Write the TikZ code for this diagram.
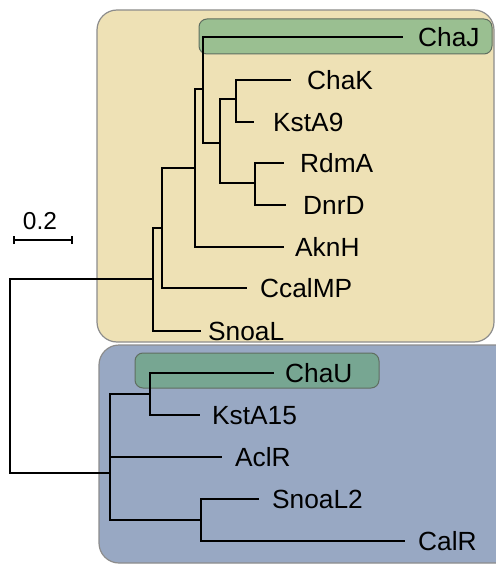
\documentclass[tikz,border=0pt]{standalone}
\usepackage{fontspec}
\setmainfont{Liberation Sans}
\definecolor{cladeA}{HTML}{EEE1B5}
\definecolor{cladeB}{HTML}{98A8C3}
\definecolor{hiA}{HTML}{9ABF91}
\definecolor{hiB}{HTML}{77A692}
\definecolor{rimgray}{HTML}{8C8C8C}
\definecolor{rimgreen}{HTML}{5F6E60}
\begin{document}
\begin{tikzpicture}[x=1pt,y=-1pt,
  clade/.style={draw=rimgray,line width=1.2pt,rounded corners=20pt},
  highlight/.style={draw=rimgreen,line width=1pt,rounded corners=8pt},
  branch/.style={draw=black,line width=2pt,line cap=rect},
  leaf/.style={anchor=base west,inner sep=0pt,font=\fontsize{26.3}{30}\selectfont},
  scalebar/.style={draw=black,line width=2pt}]
\useasboundingbox (0,0) rectangle (495,564);

% clade backgrounds
\path[clade,fill=cladeA] (97,10) rectangle (494,342);
\path[clade,fill=cladeB] (99,345) rectangle (520,563);
\path[highlight,fill=hiA] (199,19) rectangle (492,54);
\path[highlight,fill=hiB] (135,353) rectangle (379,388);

% internal nodes
\coordinate (r)  at (10,376);
\coordinate (y1) at (153,279);
\coordinate (y2) at (162,228);
\coordinate (y3) at (195,168);
\coordinate (y4) at (203,89);
\coordinate (y5) at (220,143);
\coordinate (y6) at (236,99);
\coordinate (y7) at (255,183);
\coordinate (b1) at (110,473);
\coordinate (b2) at (150,394);
\coordinate (b3) at (201,520);

% branch tips
\coordinate (tChaJ)   at (402,37);
\coordinate (tChaK)   at (290,80);
\coordinate (tKstA9)  at (253,122);
\coordinate (tRdmA)   at (283,163);
\coordinate (tDnrD)   at (285,205);
\coordinate (tAknH)   at (283,247);
\coordinate (tCcalMP) at (246,288);
\coordinate (tSnoaL)  at (200,331);
\coordinate (tChaU)   at (273,373);
\coordinate (tKstA15) at (199,415);
\coordinate (tAclR)   at (221,457);
\coordinate (tSnoaLii) at (258,499);
\coordinate (tCalR)   at (404,541);

% tree
\path[branch] (r) |- (y1);
\path[branch] (r) |- (b1);
\path[branch] (y1) |- (tSnoaL);
\path[branch] (y1) |- (y2);
\path[branch] (y2) |- (tCcalMP);
\path[branch] (y2) |- (y3);
\path[branch] (y3) |- (tAknH);
\path[branch] (y3) |- (y4);
\path[branch] (y4) |- (tChaJ);
\path[branch] (y4) |- (y5);
\path[branch] (y5) |- (y6);
\path[branch] (y5) |- (y7);
\path[branch] (y6) |- (tChaK);
\path[branch] (y6) |- (tKstA9);
\path[branch] (y7) |- (tRdmA);
\path[branch] (y7) |- (tDnrD);
\path[branch] (b1) |- (b2);
\path[branch] (b1) |- (tAclR);
\path[branch] (b1) |- (b3);
\path[branch] (b2) |- (tChaU);
\path[branch] (b2) |- (tKstA15);
\path[branch] (b3) |- (tSnoaLii);
\path[branch] (b3) |- (tCalR);

% leaf labels
\node[leaf] (ChaJ)   at (418,46.5)  {ChaJ};
\node[leaf] (ChaK)   at (307,89.5)  {ChaK};
\node[leaf] (KstA9)  at (273,131.5) {KstA9};
\node[leaf] (RdmA)   at (300,172.5) {RdmA};
\node[leaf] (DnrD)   at (303,214.5) {DnrD};
\node[leaf] (AknH)   at (295,256.5) {AknH};
\node[leaf] (CcalMP) at (260,297.5) {CcalMP};
\node[leaf] (SnoaL)  at (208,340.5) {SnoaL};
\node[leaf] (ChaU)   at (285,382.5) {ChaU};
\node[leaf] (KstA15) at (212,424.5) {KstA15};
\node[leaf] (AclR)   at (235,466.5) {AclR};
\node[leaf] (SnoaLii) at (272,508.5) {SnoaL2};
\node[leaf] (CalR)   at (418,550.5) {CalR};

% scale bar
\coordinate (sL) at (14,240);
\coordinate (sR) at (72,240);
\path[scalebar] (sL) -- (sR);
\path[scalebar] ([yshift=-4pt]sL) -- ([yshift=4pt]sL);
\path[scalebar] ([yshift=-4pt]sR) -- ([yshift=4pt]sR);
\node[anchor=base,inner sep=0pt,font=\fontsize{24.5}{28}\selectfont] (scale) at (40,229) {0.2};
\end{tikzpicture}
\end{document}
